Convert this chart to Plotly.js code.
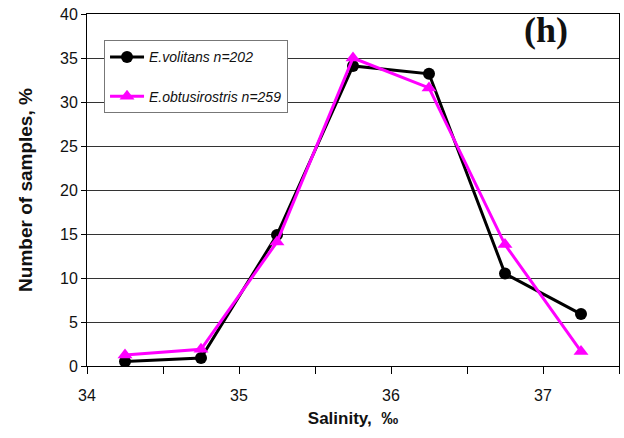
<!DOCTYPE html>
<html>
<head>
<meta charset="utf-8">
<script src="https://cdn.plot.ly/plotly-3.0.1.min.js"></script>
<style>html,body{margin:0;padding:0;background:#fff;}#chart{width:624px;height:438px;}</style>
</head>
<body>
<div id="chart"></div>
<script>
const salinity = [34.25, 34.75, 35.25, 35.75, 36.25, 36.75, 37.25];
const volitans = [0.5, 0.9, 14.9, 34.1, 33.2, 10.5, 5.9];
const obtusirostris = [1.25, 1.9, 14.1, 35.0, 31.6, 13.8, 1.65];
const xTickVals = [34, 34.5, 35, 35.5, 36, 36.5, 37, 37.5];
const xTickText = ['34', '', '35', '', '36', '', '37', ''];
const yTickVals = [0, 5, 10, 15, 20, 25, 30, 35, 40];

const traces = [
  {x: salinity, y: volitans, name: '<i>E.volitans n=202</i>', type: 'scatter', mode: 'lines+markers',
   legendgroup: 'a',
   line: {color: '#000000', width: 3}, marker: {symbol: 'circle', size: 12, color: '#000000'}},
  {x: salinity, y: obtusirostris, name: '<i>E.obtusirostris n=259</i>', type: 'scatter', mode: 'lines+markers',
   legendgroup: 'b',
   line: {color: '#FF00FF', width: 3}, marker: {symbol: 'triangle-up', size: 13, color: '#FF00FF'}}
];

const layout = {
  width: 624, height: 438,
  paper_bgcolor: '#ffffff', plot_bgcolor: '#ffffff',
  margin: {l: 87, r: 5, t: 14, b: 72},
  font: {family: 'Liberation Sans, Arial, sans-serif', color: '#111111'},
  showlegend: true,
  legend: {x: 0.032, y: 0.925, xanchor: 'left', yanchor: 'top', bgcolor: '#ffffff',
    bordercolor: '#777777', borderwidth: 1, font: {size: 14, color: '#111'},
    traceorder: 'grouped', tracegroupgap: 18, itemwidth: 34},
  xaxis: {range: [34, 37.5], tickvals: xTickVals, ticktext: xTickText,
    ticks: 'outside', ticklen: 7, tickcolor: '#000', showgrid: false, zeroline: false,
    showline: true, linecolor: '#000', linewidth: 1, mirror: true,
    ticklabelstandoff: 8,
    tickfont: {size: 16, color: '#111'},
    title: {text: '<b>Salinity,  ‰</b>' + '\u00a0'.repeat(7), font: {size: 17, color: '#111'}, standoff: 8}},
  yaxis: {range: [0, 40], tickvals: yTickVals,
    ticks: 'outside', ticklen: 5, tickcolor: '#000', showgrid: true, gridcolor: '#333333', gridwidth: 1,
    zeroline: false, showline: true, linecolor: '#000', linewidth: 1, mirror: true,
    tickfont: {size: 16, color: '#111'},
    title: {text: '<b>Number of samples, %</b>', font: {size: 19, color: '#111'}, standoff: 22}},
  annotations: [{text: '<b>(h)</b>', xref: 'paper', yref: 'paper', x: 0.863, y: 0.955,
    xanchor: 'center', yanchor: 'middle', showarrow: false,
    font: {family: 'Liberation Serif, Times New Roman, serif', size: 36, color: '#111'}}]
};

Plotly.newPlot('chart', traces, layout, {displayModeBar: false, staticPlot: true});
</script>
</body>
</html>
